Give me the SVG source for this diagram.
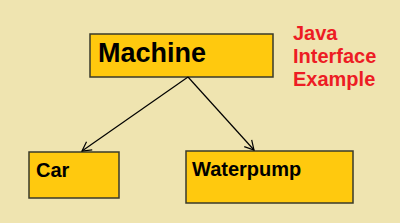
<svg xmlns="http://www.w3.org/2000/svg" width="400" height="223" viewBox="0 0 400 223">
<defs>
<style>
.box{fill:#FFC90E;stroke:#3a3a2a;stroke-width:1.5}
.lbl{font-family:"Liberation Sans",Arial,sans-serif;font-weight:bold;fill:#000}
.red{font-family:"Liberation Sans",Arial,sans-serif;font-weight:bold;fill:#ED1C24;font-size:20px}
.con{stroke:#000;stroke-width:1.2;fill:none}
</style>
<marker id="arr" markerWidth="12" markerHeight="12" refX="10" refY="6" orient="auto" markerUnits="userSpaceOnUse">
<path d="M1,1 L10,6 L1,11" fill="none" stroke="#000" stroke-width="1.2"/>
</marker>
</defs>
<rect width="400" height="223" fill="#EFE4B0"/>
<g id="machine">
<rect class="box" x="90" y="34" width="183" height="43"/>
<text class="lbl" x="98" y="62" font-size="27">Machine</text>
</g>
<g id="car">
<rect class="box" x="29" y="152" width="90" height="46"/>
<text class="lbl" x="36" y="177" font-size="20">Car</text>
</g>
<g id="waterpump">
<rect class="box" x="186" y="151" width="167" height="52"/>
<text class="lbl" x="192" y="176" font-size="20">Waterpump</text>
</g>
<g id="title">
<text class="red" x="293" y="40">Java</text>
<text class="red" x="293" y="63">Interface</text>
<text class="red" x="293" y="86">Example</text>
</g>
<g id="connectors">
<line class="con" x1="188" y1="77" x2="82" y2="151" marker-end="url(#arr)"/>
<line class="con" x1="188" y1="77" x2="254" y2="150" marker-end="url(#arr)"/>
</g>
</svg>
